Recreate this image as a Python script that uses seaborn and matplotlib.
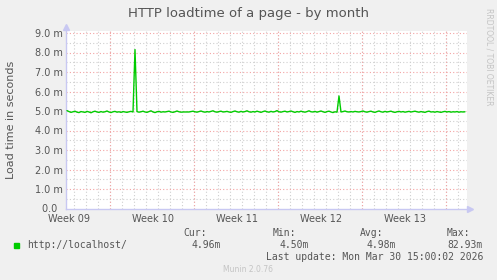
import numpy as np
import pandas as pd
import matplotlib
matplotlib.use("Agg")
import matplotlib.pyplot as plt
import seaborn as sns
from matplotlib.patches import Rectangle
from matplotlib.ticker import FixedLocator

# ---- data ----
loadtime = [
    5.02, 4.97, 4.93, 4.96, 4.99, 4.94, 4.92, 4.97, 4.95, 4.93,
    4.98, 4.95, 4.91, 4.96, 4.99, 4.95, 4.93, 4.97, 4.94, 4.96,
    5.00, 4.95, 4.92, 4.96, 4.98, 4.94, 4.96, 4.93, 4.97, 4.95,
    4.93, 4.96, 4.98, 4.95, 8.15, 4.97, 4.94, 4.96, 4.99, 4.95,
    4.93, 4.97, 5.01, 4.95, 4.92, 4.96, 4.98, 4.94, 4.96, 4.95,
    4.97, 4.99, 4.95, 4.93, 4.96, 5.00, 4.96, 4.94, 4.95, 4.95,
    4.95, 4.95, 4.97, 4.99, 4.96, 4.94, 4.97, 5.00, 4.96, 4.94,
    4.97, 4.95, 4.98, 5.01, 4.96, 4.94, 4.97, 4.99, 4.95, 4.96,
    4.98, 4.95, 4.93, 4.97, 5.00, 4.96, 4.94, 4.98, 4.95, 4.97,
    5.01, 4.96, 4.94, 4.97, 4.95, 4.99, 4.96, 4.93, 4.97, 5.00,
    4.96, 4.94, 4.98, 4.95, 4.97, 5.02, 4.96, 4.94, 4.97, 4.99,
    4.95, 4.97, 5.00, 4.96, 4.93, 4.97, 4.95, 4.99, 4.96, 4.94,
    4.97, 5.01, 4.96, 4.95, 4.98, 4.94, 4.97, 5.00, 4.96, 4.93,
    4.97, 4.99, 4.95, 4.92, 4.96, 4.94, 5.77, 4.95, 4.97, 5.00,
    4.96, 4.95, 4.97, 4.95, 4.98, 4.96, 4.95, 4.97, 5.00, 4.96,
    4.94, 4.97, 4.99, 4.95, 4.93, 4.97, 5.00, 4.96, 4.94, 4.98,
    4.95, 4.97, 4.99, 4.95, 4.93, 4.96, 4.98, 4.95, 4.97, 4.94,
    4.96, 4.98, 4.95, 4.97, 4.99, 4.96, 4.94, 4.97, 4.95, 4.93,
    4.97, 4.99, 4.95, 4.96, 4.94, 4.97, 4.95, 4.93, 4.96, 4.98,
    4.95, 4.97, 4.94, 4.96, 4.95, 4.97, 4.94, 4.96, 4.95, 4.96,
]
sample_step_days = 1.0 / 6.0
week_labels = ["Week 09", "Week 10", "Week 11", "Week 12", "Week 13"]
ytick_labels = ["0.0  ", "1.0 m", "2.0 m", "3.0 m", "4.0 m", "5.0 m",
                "6.0 m", "7.0 m", "8.0 m", "9.0 m"]
legend_name = "http://localhost/"
stat_names = ["Cur:", "Min:", "Avg:", "Max:"]
stat_values = ["4.96m", "4.50m", "4.98m", "82.93m"]

days = [0.083 + sample_step_days * i for i in range(len(loadtime))]
df = pd.DataFrame({"day": days, "load": loadtime})

# ---- style ----
sns.set_theme(style="white")
plt.rcParams["font.family"] = ["DejaVu Sans"]

W, H = 497, 280
fig = plt.figure(figsize=(W / 100, H / 100), dpi=100, facecolor="#f0f0f0")

def fx(px):
    return px / W

def fy(py):
    return 1 - py / H

ax_l, ax_r, ax_t, ax_b = 66, 467, 31, 208.5
ax = fig.add_axes([fx(ax_l), fy(ax_b), fx(ax_r - ax_l), (ax_b - ax_t) / H])
ax.set_facecolor("white")

xmax = (ax_r - ax_l) / 12.0
ax.set_xlim(0, xmax)
ax.set_ylim(0, 9.0 * (ax_b - ax_t) / (ax_b - 33))

grey = "#cfcfcf"
red = "#f3a3a3"
axis_col = "#c8c8f2"

# grid lines
for j in range(34):
    xd = 0.667 + j
    if xd < xmax:
        ax.axvline(xd, color=grey, lw=0.8, ls=(0, (1, 2)), zorder=1)
for v in np.arange(0.5, 9.5, 1.0):
    ax.axhline(v, color=grey, lw=0.8, ls=(0, (1, 2)), zorder=1)
for k in range(5):
    ax.axvline(3.667 + 7 * k, color=red, lw=0.8, ls=(0, (1, 2)), zorder=2)
for v in range(1, 10):
    ax.axhline(v, color=red, lw=0.8, ls=(0, (1, 2)), zorder=2)

sns.lineplot(data=df, x="day", y="load", ax=ax, color="#00cc00",
             linewidth=1.0, zorder=5, legend=False)

ax.set_xlabel("")
ax.set_ylabel("Load time in seconds", fontsize=8, color="#555555")
ax.yaxis.set_label_coords((16 - ax_l) / (ax_r - ax_l), 0.5)

ax.set_xticks([0.25 + 7 * k for k in range(5)])
ax.set_xticklabels(week_labels, fontsize=7, color="#555555")
ax.set_yticks(range(10))
ax.set_yticklabels(ytick_labels, fontsize=7, color="#555555")
ax.tick_params(axis="y", length=0, pad=2)
ax.tick_params(axis="x", length=0, pad=4)
ax.xaxis.set_minor_locator(FixedLocator([3.667 + 7 * k for k in range(5)]))
ax.tick_params(axis="x", which="minor", length=3, color=red, width=0.8,
               direction="out")

for s in ["top", "right"]:
    ax.spines[s].set_visible(False)
for s in ["left", "bottom"]:
    ax.spines[s].set_color(axis_col)
    ax.spines[s].set_linewidth(1.0)

# arrows
ax.plot([0], [1.02], marker="^", color=axis_col, markersize=5,
        transform=ax.transAxes, clip_on=False)
ax.plot([1.008], [0], marker=">", color=axis_col, markersize=5,
        transform=ax.transAxes, clip_on=False)

# title and side text
fig.text(fx(248), fy(13), "HTTP loadtime of a page - by month", ha="center",
         va="center", fontsize=9.5, color="#555555")
fig.text(fx(489), fy(57), "RRDTOOL / TOBI OETIKER", rotation=270, ha="center",
         va="center", fontsize=5.5, color="#c4c4c4")

# legend
mono = "DejaVu Sans Mono"
fig.patches.append(Rectangle((fx(14), fy(248)), fx(5), 5 / H,
                             transform=fig.transFigure, color="#00cc00"))
fig.text(fx(27), fy(245.5), legend_name, family=mono, fontsize=7,
         color="#555555", va="center", ha="left")
name_x = [207, 296, 383, 470]
val_x = [221, 309, 396, 483]
for nm, vl, nx, vx in zip(stat_names, stat_values, name_x, val_x):
    fig.text(fx(nx), fy(232.5), nm, family=mono, fontsize=7, color="#555555",
             va="center", ha="right")
    fig.text(fx(vx), fy(245.5), vl, family=mono, fontsize=7, color="#555555",
             va="center", ha="right")
fig.text(fx(483), fy(257.5), "Last update: Mon Mar 30 15:00:02 2026",
         family=mono, fontsize=7, color="#555555", va="center", ha="right")
fig.text(fx(248), fy(269.5), "Munin 2.0.76", fontsize=5.5, color="#c4c4c4",
         va="center", ha="center")

fig.savefig("out.png", dpi=100, facecolor=fig.get_facecolor())
